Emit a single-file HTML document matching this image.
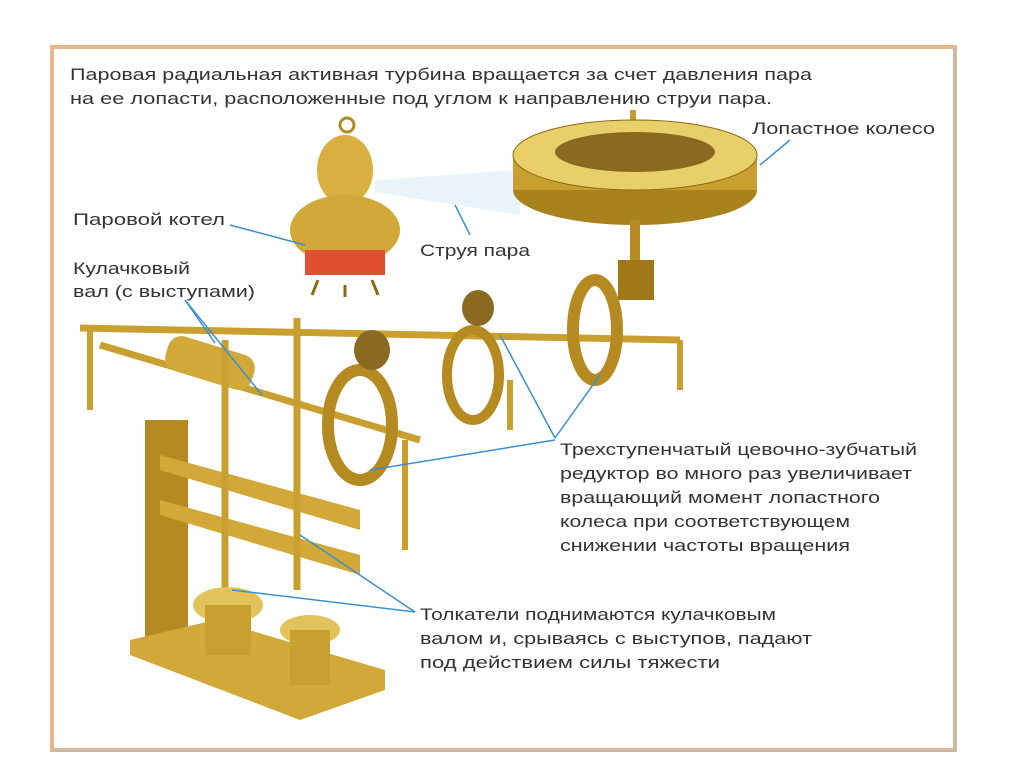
<!DOCTYPE html>
<html><head><meta charset="utf-8"><style>
body{margin:0;background:#fff;width:1024px;height:767px;overflow:hidden}
svg{position:absolute;left:0;top:0}
text{font-family:"Liberation Sans",sans-serif;fill:#333;font-size:17px}
</style></head><body>
<svg width="1024" height="767" viewBox="0 0 1024 767">
<rect x="52" y="47" width="903" height="703" fill="#fff" stroke="#e6b98c" stroke-width="4"/>
<line x1="955" y1="48" x2="955" y2="751" stroke="#bbb" stroke-width="2"/>
<line x1="52" y1="751" x2="955" y2="751" stroke="#bbb" stroke-width="2"/>
<!-- steam jet -->
<polygon points="375,180 520,170 520,215 375,192" fill="#e8f3fa"/>
<!-- turbine wheel -->
<rect x="630" y="110" width="6" height="40" fill="#c9a030"/>
<ellipse cx="635" cy="190" rx="122" ry="35" fill="#a8821c"/>
<rect x="513" y="155" width="244" height="35" fill="#c9a030"/>
<ellipse cx="635" cy="155" rx="122" ry="35" fill="#e8cf6a" stroke="#8a6a10"/>
<ellipse cx="635" cy="152" rx="80" ry="20" fill="#8a6a20"/>
<rect x="630" y="220" width="10" height="60" fill="#b58a20"/>
<rect x="618" y="260" width="36" height="40" fill="#a07818"/>
<!-- boiler -->
<circle cx="347" cy="125" r="7" fill="none" stroke="#b58a20" stroke-width="3"/>
<ellipse cx="345" cy="170" rx="28" ry="35" fill="#d7b040"/>
<ellipse cx="345" cy="230" rx="55" ry="35" fill="#d2a838"/>
<rect x="305" y="250" width="80" height="25" fill="#e05030"/>
<path d="M318 280 l-6 15 M345 285 v12 M372 280 l6 15" stroke="#8a6a10" stroke-width="3"/>
<!-- shafts -->
<line x1="80" y1="328" x2="680" y2="340" stroke="#c9a030" stroke-width="7"/>
<line x1="100" y1="345" x2="420" y2="440" stroke="#c9a030" stroke-width="7"/>
<line x1="90" y1="330" x2="90" y2="410" stroke="#c9a030" stroke-width="6"/>
<line x1="680" y1="340" x2="680" y2="390" stroke="#c9a030" stroke-width="6"/>
<line x1="405" y1="440" x2="405" y2="550" stroke="#c9a030" stroke-width="6"/>
<line x1="510" y1="380" x2="510" y2="430" stroke="#c9a030" stroke-width="6"/>
<rect x="165" y="345" width="90" height="36" rx="14" fill="#d2a838" transform="rotate(17 210 363)"/>
<!-- gears -->
<ellipse cx="360" cy="425" rx="32" ry="55" fill="none" stroke="#b58a20" stroke-width="12"/>
<ellipse cx="372" cy="350" rx="18" ry="20" fill="#8a6a20"/>
<ellipse cx="473" cy="375" rx="26" ry="45" fill="none" stroke="#b58a20" stroke-width="10"/>
<ellipse cx="478" cy="308" rx="16" ry="18" fill="#8a6a20"/>
<ellipse cx="595" cy="330" rx="22" ry="50" fill="none" stroke="#b58a20" stroke-width="12"/>
<!-- stand -->
<polygon points="145,420 188,420 188,640 145,660" fill="#b58a20"/>
<polygon points="160,455 360,510 360,530 160,470" fill="#d2a838"/>
<polygon points="160,500 360,555 360,575 160,515" fill="#d2a838"/>
<line x1="225" y1="340" x2="225" y2="620" stroke="#c9a030" stroke-width="7"/>
<line x1="297" y1="318" x2="297" y2="590" stroke="#c9a030" stroke-width="7"/>
<polygon points="130,655 300,720 385,690 385,670 215,620 130,640" fill="#d2a838"/>
<ellipse cx="228" cy="605" rx="35" ry="18" fill="#e2c25a"/>
<rect x="205" y="605" width="46" height="50" fill="#c9a030"/>
<ellipse cx="310" cy="630" rx="30" ry="15" fill="#e2c25a"/>
<rect x="290" y="630" width="40" height="55" fill="#c9a030"/>
<!-- leaders -->
<g stroke="#3a8fd0" stroke-width="1.5" fill="none">
<line x1="790" y1="140" x2="760" y2="165"/>
<line x1="230" y1="225" x2="305" y2="245"/>
<line x1="470" y1="235" x2="455" y2="205"/>
<line x1="185" y1="300" x2="215" y2="343"/>
<line x1="185" y1="300" x2="262" y2="395"/>
<line x1="555" y1="438" x2="500" y2="335"/>
<line x1="555" y1="438" x2="600" y2="375"/>
<line x1="555" y1="440" x2="370" y2="470"/>
<line x1="415" y1="612" x2="300" y2="535"/>
<line x1="415" y1="612" x2="232" y2="590"/>
</g>
<g lengthAdjust="spacingAndGlyphs">
<text x="70" y="80" textLength="742" lengthAdjust="spacingAndGlyphs">Паровая радиальная активная турбина вращается за счет давления пара</text>
<text x="70" y="104" textLength="702" lengthAdjust="spacingAndGlyphs">на ее лопасти, расположенные под углом к направлению струи пара.</text>
<text x="752" y="134" textLength="183" lengthAdjust="spacingAndGlyphs">Лопастное колесо</text>
<text x="73" y="225" textLength="152" lengthAdjust="spacingAndGlyphs">Паровой котел</text>
<text x="420" y="256" textLength="110" lengthAdjust="spacingAndGlyphs">Струя пара</text>
<text x="73" y="274" textLength="117" lengthAdjust="spacingAndGlyphs">Кулачковый</text>
<text x="73" y="297" textLength="182" lengthAdjust="spacingAndGlyphs">вал (с выступами)</text>
<text x="560" y="455" textLength="357" lengthAdjust="spacingAndGlyphs">Трехступенчатый цевочно-зубчатый</text>
<text x="560" y="479" textLength="352" lengthAdjust="spacingAndGlyphs">редуктор во много раз увеличивает</text>
<text x="560" y="503" textLength="320" lengthAdjust="spacingAndGlyphs">вращающий момент лопастного</text>
<text x="560" y="527" textLength="290" lengthAdjust="spacingAndGlyphs">колеса при соответствующем</text>
<text x="560" y="551" textLength="290" lengthAdjust="spacingAndGlyphs">снижении частоты вращения</text>
<text x="420" y="620" textLength="356" lengthAdjust="spacingAndGlyphs">Толкатели поднимаются кулачковым</text>
<text x="420" y="644" textLength="392" lengthAdjust="spacingAndGlyphs">валом и,  срываясь с выступов,  падают</text>
<text x="420" y="668" textLength="300" lengthAdjust="spacingAndGlyphs">под действием силы тяжести</text>
</g>
</svg>
</body></html>
